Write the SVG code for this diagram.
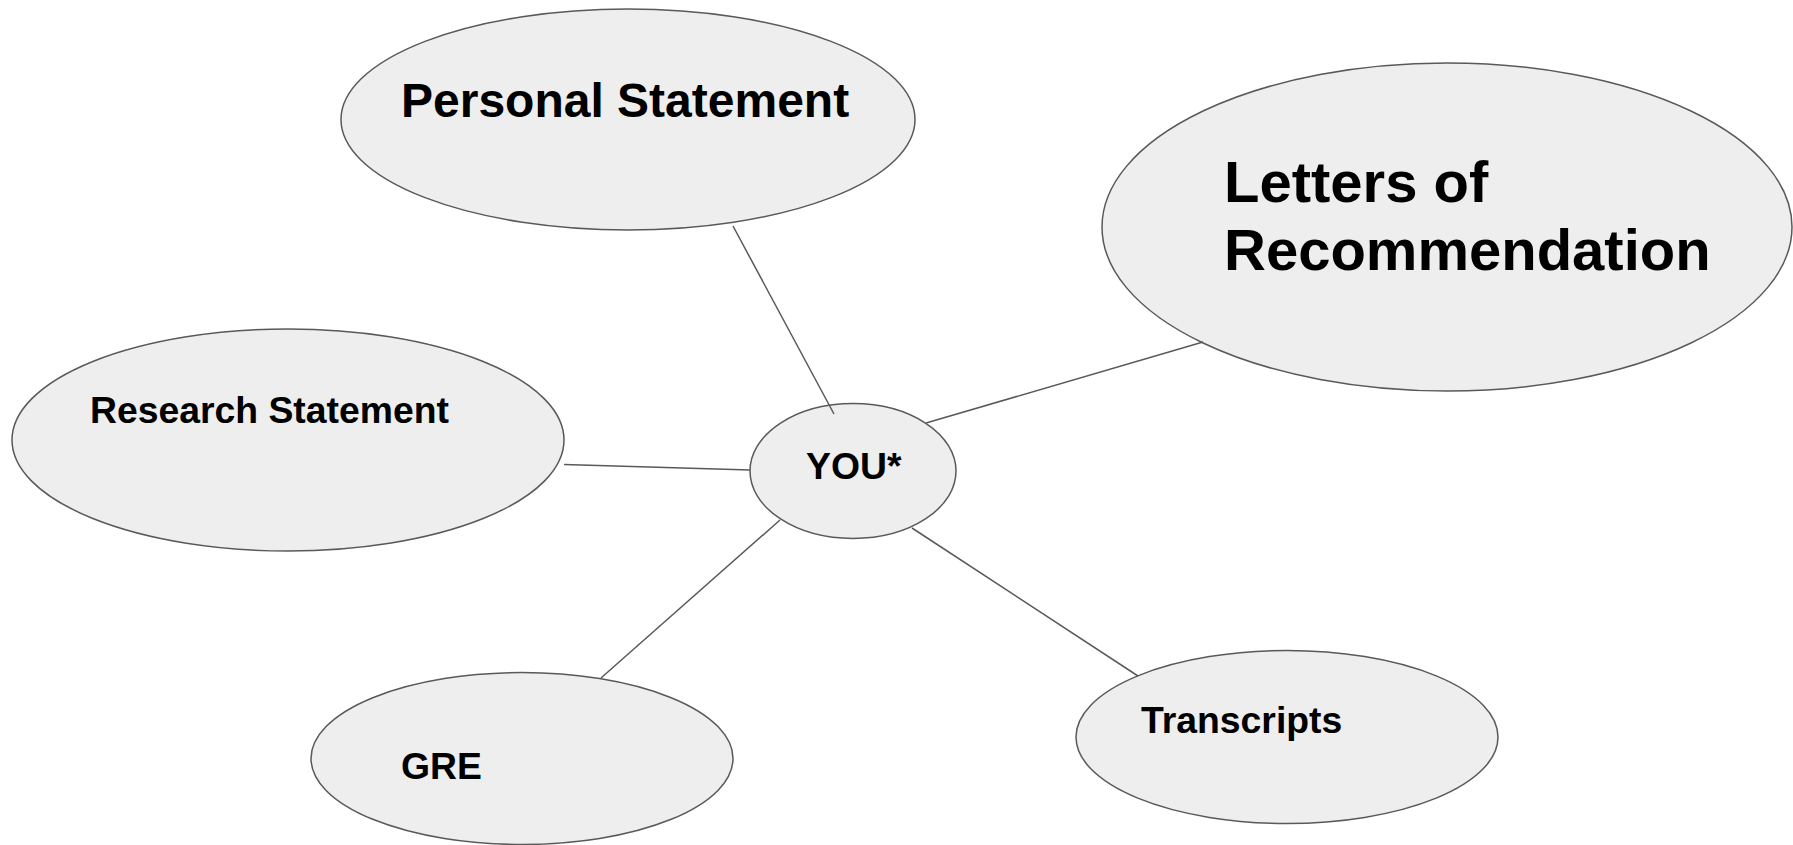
<svg xmlns="http://www.w3.org/2000/svg" width="1793" height="845" viewBox="0 0 1793 845">
<style>
.node ellipse { fill: #eeeeee; stroke: #595959; stroke-width: 1.5; }
.conn line { stroke: #595959; stroke-width: 1.5; }
text { font-family: "Liberation Sans", Arial, sans-serif; font-weight: bold; fill: #000000; }
</style>
<rect width="1793" height="845" fill="#ffffff"/>
<g id="personal-statement" class="node">
<ellipse cx="628" cy="119.5" rx="287" ry="110.5"/>
<text x="401" y="117" font-size="48">Personal Statement</text>
</g>
<g id="letters" class="node">
<ellipse cx="1447" cy="227" rx="345" ry="164"/>
<text x="1224" y="202" font-size="58">Letters of</text>
<text x="1224" y="270" font-size="58">Recommendation</text>
</g>
<g id="research-statement" class="node">
<ellipse cx="288" cy="440" rx="276" ry="111"/>
<text x="90" y="423" font-size="37.33">Research Statement</text>
</g>
<g id="you" class="node">
<ellipse cx="853" cy="471" rx="103" ry="67.5"/>
<text x="806" y="479" font-size="37.33">YOU*</text>
</g>
<g id="gre" class="node">
<ellipse cx="522" cy="758.5" rx="211" ry="86"/>
<text x="401" y="778.5" font-size="37.33">GRE</text>
</g>
<g id="transcripts" class="node">
<ellipse cx="1287" cy="737" rx="211" ry="86.5"/>
<text x="1141" y="733" font-size="37.33">Transcripts</text>
</g>
<g id="connectors" class="conn">
<line x1="733" y1="226" x2="834" y2="414"/>
<line x1="1203" y1="342" x2="926" y2="423"/>
<line x1="564" y1="464.5" x2="750" y2="470"/>
<line x1="601" y1="678" x2="780" y2="520"/>
<line x1="912" y1="528" x2="1138" y2="676"/>
</g>
</svg>
